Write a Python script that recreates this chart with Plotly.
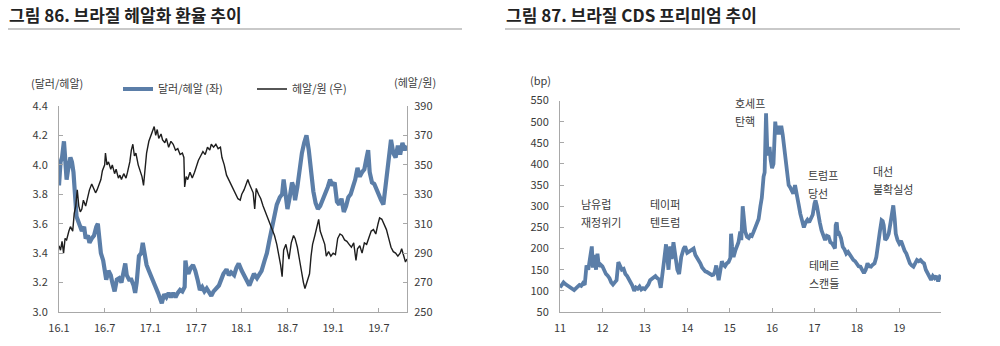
import plotly.graph_objects as go
from plotly.subplots import make_subplots

# ---------------- data: Brazilian real exchange rates (2016.1 ~ 2019.10) ----------------
# x = months since Jan 2016
usd_brl_month = [0, 0.2, 0.4, 0.65, 0.8, 1.0, 1.2, 1.5, 1.7, 1.9, 2.1, 2.3, 2.5, 2.8, 3.0, 3.3, 3.5, 3.8, 4.0, 4.3,
                 4.6, 4.9, 5.1, 5.3, 5.5, 5.8, 6.0, 6.2, 6.5, 6.8, 7.0, 7.3, 7.6, 7.9, 8.2, 8.5, 8.7, 8.9, 9.2, 9.5,
                 9.8, 10.0, 10.2, 10.5, 10.8, 11.0, 11.2, 11.5, 11.8, 12.0, 12.3, 12.6, 13.0, 13.3, 13.5, 13.8, 14.1,
                 14.4, 14.7, 15.0, 15.3, 15.6, 15.9, 16.2, 16.5, 16.6, 16.8, 17.0, 17.3, 17.6, 17.9, 18.2, 18.5, 18.8,
                 19.1, 19.4, 19.7, 20.0, 20.3, 20.6, 21.0, 21.3, 21.6, 22.0, 22.3, 22.6, 23.0, 23.3, 23.6, 24.0, 24.3,
                 24.6, 25.0, 25.3, 25.6, 26.0, 26.3, 26.6, 27.0, 27.3, 27.6, 28.0, 28.3, 28.6, 29.0, 29.3, 29.5, 29.8,
                 30.0, 30.3, 30.6, 30.8, 31.0, 31.3, 31.6, 31.9, 32.2, 32.5, 32.8, 33.1, 33.4, 33.7, 34.0, 34.3, 34.6,
                 35.0, 35.3, 35.6, 35.9, 36.2, 36.5, 36.8, 37.1, 37.4, 37.7, 38.0, 38.3, 38.6, 38.9, 39.2, 39.5, 39.8,
                 40.1, 40.4, 40.6, 40.8, 41.1, 41.4, 41.7, 42.0, 42.3, 42.6, 42.9, 43.1, 43.4, 43.6, 43.9, 44.2, 44.5,
                 44.8, 45.1, 45.4, 45.7]
usd_brl = [3.86, 4.02, 4.05, 4.16, 4.05, 3.90, 3.97, 4.05, 4.02, 3.95, 3.80, 3.65, 3.62, 3.58, 3.55, 3.58, 3.50, 3.52,
           3.47, 3.50, 3.52, 3.58, 3.60, 3.50, 3.40, 3.35, 3.30, 3.22, 3.28, 3.25, 3.20, 3.14, 3.22, 3.23, 3.20, 3.30,
           3.33, 3.25, 3.22, 3.22, 3.18, 3.13, 3.20, 3.38, 3.40, 3.47, 3.40, 3.32, 3.28, 3.25, 3.22, 3.18, 3.13, 3.08,
           3.06, 3.12, 3.10, 3.13, 3.10, 3.13, 3.10, 3.13, 3.15, 3.14, 3.17, 3.35, 3.28, 3.26, 3.30, 3.32, 3.28, 3.22,
           3.15, 3.17, 3.14, 3.16, 3.14, 3.11, 3.14, 3.16, 3.18, 3.22, 3.26, 3.29, 3.25, 3.27, 3.25, 3.30, 3.33, 3.28,
           3.25, 3.22, 3.18, 3.22, 3.26, 3.23, 3.25, 3.28, 3.35, 3.40, 3.48, 3.58, 3.68, 3.73, 3.78, 3.80, 3.90, 3.80,
           3.70, 3.78, 3.88, 3.85, 3.76, 3.85, 3.97, 4.08, 4.15, 4.20, 4.10, 3.95, 3.82, 3.74, 3.70, 3.72, 3.76, 3.80,
           3.85, 3.90, 3.86, 3.88, 3.75, 3.73, 3.77, 3.68, 3.72, 3.78, 3.80, 3.85, 3.90, 3.98, 3.92, 3.95, 3.97, 4.05,
           4.10, 3.95, 3.88, 3.87, 3.83, 3.80, 3.76, 3.73, 3.85, 3.97, 4.10, 4.17, 4.08, 4.05, 4.13, 4.07, 4.15, 4.10,
           4.13]

brl_krw_month = [0, 0.2, 0.4, 0.6, 0.8, 1.0, 1.3, 1.5, 1.8, 2.0, 2.2, 2.4, 2.6, 2.8, 3.0, 3.2, 3.5, 3.8, 4.0, 4.3,
                 4.5, 4.8, 5.0, 5.3, 5.5, 5.7, 6.0, 6.1, 6.3, 6.5, 6.8, 7.0, 7.3, 7.5, 7.8, 8.0, 8.2, 8.5, 8.8, 9.0,
                 9.3, 9.5, 9.7, 9.9, 10.1, 10.4, 10.7, 10.9, 11.1, 11.3, 11.5, 11.8, 12.0, 12.3, 12.5, 12.7, 12.9,
                 13.1, 13.4, 13.6, 13.9, 14.1, 14.4, 14.7, 15.0, 15.3, 15.6, 15.9, 16.2, 16.4, 16.5, 16.7, 16.9, 17.2,
                 17.5, 17.8, 18.0, 18.3, 18.6, 18.9, 19.2, 19.5, 19.8, 20.0, 20.3, 20.6, 20.9, 21.2, 21.4, 21.7, 22.0,
                 22.3, 22.6, 22.9, 23.2, 23.5, 23.8, 24.0, 24.3, 24.6, 24.8, 25.0, 25.3, 25.5, 25.7, 25.9, 26.2, 26.5,
                 26.8, 27.1, 27.4, 27.7, 28.0, 28.3, 28.6, 28.9, 29.1, 29.3, 29.5, 29.8, 30.0, 30.2, 30.5, 30.8, 31.0,
                 31.3, 31.6, 31.9, 32.1, 32.3, 32.6, 32.9, 33.1, 33.3, 33.6, 33.9, 34.1, 34.3, 34.6, 34.9, 35.1, 35.4,
                 35.7, 36.0, 36.3, 36.6, 36.9, 37.2, 37.5, 37.8, 38.1, 38.4, 38.7, 39.0, 39.2, 39.5, 39.8, 40.1, 40.4,
                 40.7, 41.0, 41.3, 41.6, 41.9, 42.1, 42.4, 42.7, 43.0, 43.3, 43.6, 43.9, 44.2, 44.5, 44.8, 45.0, 45.3,
                 45.5, 45.7]
brl_krw = [295, 292, 298, 290, 300, 299, 305, 308, 305, 317, 322, 333, 322, 318, 320, 326, 322, 330, 333, 337, 335, 331,
           333, 338, 340, 346, 350, 358, 350, 352, 347, 350, 344, 347, 341, 343, 340, 344, 341, 345, 352, 360, 364, 356,
           358, 350, 345, 342, 336, 348, 358, 366, 369, 372, 376, 370, 374, 368, 371, 367, 365, 368, 362, 366, 364, 360,
           361, 357, 358, 355, 335, 342, 340, 345, 341, 345, 349, 353, 356, 359, 357, 362, 360, 364, 362, 364, 361, 362,
           355, 350, 343, 340, 337, 334, 330, 327, 326, 330, 333, 337, 340, 337, 333, 331, 320, 334, 330, 327, 322, 318,
           314, 310, 307, 302, 296, 288, 282, 274, 292, 296, 290, 286, 297, 302, 300, 294, 285, 275, 270, 266, 272, 276,
           288, 296, 302, 308, 313, 305, 300, 296, 288, 291, 288, 290, 289, 300, 303, 302, 299, 298, 296, 294, 297, 285,
           293, 295, 290, 297, 296, 301, 305, 306, 303, 310, 314, 313, 310, 306, 300, 294, 291, 290, 288, 290, 293, 288,
           284, 286]

fx_ticks = [0, 6, 12, 18, 24, 30, 36, 42]
fx_tick_labels = ["16.1", "16.7", "17.1", "17.7", "18.1", "18.7", "19.1", "19.7"]

# ---------------- data: Brazil CDS premium (2011 ~ 2019) ----------------
# x = months since Jan 2011
cds_month = [0, 0.5, 1, 1.5, 2, 2.5, 3, 3.5, 4, 4.5, 5, 5.5, 6, 6.5, 7, 7.5, 8, 8.5, 9, 9.3, 9.7, 10.2, 10.6, 11, 11.5,
             12, 12.5, 13, 13.5, 14, 14.5, 15, 15.5, 16, 16.5, 17, 17.5, 18, 18.5, 19, 19.5, 20, 20.5, 21, 21.5, 22,
             22.5, 23, 23.5, 24, 24.5, 25, 25.5, 26, 26.5, 27, 27.5, 28, 28.5, 29, 29.5, 30, 30.4, 30.7, 31.2, 31.6,
             32.1, 32.6, 33.2, 33.7, 34.3, 35, 35.4, 36, 36.8, 37.8, 38.3, 38.7, 39.2, 39.7, 40.2, 40.6, 41.1, 41.5,
             42, 42.5, 43, 43.4, 43.8, 44.2, 44.6, 44.9, 45.4, 45.8, 46.2, 46.7, 47.2, 47.7, 48.2, 48.4, 48.7, 49.1,
             49.6, 50, 50.5, 51, 51.3, 51.7, 52, 52.4, 52.9, 53.4, 53.9, 54.3, 54.8, 55.2, 55.7, 56.2, 56.7, 57.1,
             57.6, 57.9, 58.3, 58.5, 58.7, 59, 59.3, 59.6, 60, 60.4, 60.9, 61.3, 61.8, 62.2, 62.6, 63, 63.3, 63.7,
             64, 64.4, 64.7, 65.1, 65.5, 66, 66.5, 67, 67.5, 68, 68.5, 69, 69.5, 70, 70.5, 71, 71.5, 72, 72.3, 72.7,
             73, 73.5, 74, 74.5, 75, 75.5, 76, 76.5, 77, 77.5, 77.8, 78, 78.3, 78.6, 79, 79.5, 80, 80.5, 81, 81.5,
             82, 82.5, 83, 83.5, 84, 84.5, 85, 85.5, 86, 86.5, 87, 87.5, 88, 88.5, 89, 89.5, 90, 90.5, 91, 91.3,
             91.6, 92, 92.5, 93, 93.5, 94, 94.3, 94.7, 95, 95.5, 96, 96.5, 97, 97.5, 98, 98.5, 99, 99.5, 100, 100.5,
             101, 101.5, 102, 102.5, 103, 103.5, 104, 104.5, 105, 105.5, 106, 106.5, 107, 107.3, 107.7]
cds_bp = [108, 115, 120, 116, 113, 110, 107, 104, 102, 106, 110, 114, 112, 118, 114, 160, 150, 178, 205, 155, 185, 150,
          188, 158, 162, 158, 148, 140, 136, 130, 120, 115, 120, 125, 168, 160, 150, 152, 140, 135, 128, 120, 112, 100,
          108, 105, 110, 103, 106, 104, 110, 115, 125, 128, 132, 135, 130, 127, 107, 135, 175, 210, 165, 150, 205, 175,
          215, 180, 150, 140, 180, 200, 205, 190, 195, 200, 185, 180, 172, 165, 155, 150, 146, 145, 142, 140, 137, 138,
          145, 160, 140, 125, 150, 170, 162, 158, 165, 168, 178, 235, 205, 180, 195, 205, 215, 240, 220, 300, 275, 240,
          228, 225, 232, 230, 240, 250, 262, 270, 300, 320, 370, 380, 520, 470, 420, 430, 440, 410, 390, 400, 500, 470,
          490, 470, 490, 470, 450, 420, 400, 375, 350, 345, 340, 330, 350, 320, 305, 282, 265, 250, 262, 268, 262, 270,
          280, 306, 314, 300, 282, 262, 243, 232, 220, 230, 228, 215, 212, 205, 200, 255, 262, 232, 235, 225, 204, 198,
          188, 192, 185, 178, 173, 170, 165, 158, 157, 150, 142, 150, 165, 158, 157, 162, 165, 180, 204, 240, 267, 265,
          255, 220, 225, 235, 260, 298, 302, 270, 235, 220, 212, 218, 204, 195, 188, 175, 165, 160, 157, 165, 173, 170,
          173, 168, 165, 150, 142, 135, 126, 135, 130, 135, 122, 130, 138]

cds_ticks = [0, 12, 24, 36, 48, 60, 72, 84, 96]
cds_tick_labels = ["11", "12", "13", "14", "15", "16", "17", "18", "19"]

# event notes on the CDS chart: (first line, second line, month, bp of first line)
cds_events = [
    ("남유럽", "재정위기", 5.5, 305),
    ("테이퍼", "텐트럼", 24.8, 305),
    ("호세프", "탄핵", 49.0, 545),
    ("트럼프", "당선", 69.6, 375),
    ("테메르", "스캔들", 70.0, 162),
    ("대선", "불확실성", 88.0, 383),
]

# ---------------- styling ----------------
W, H = 1000, 346
FONT = "Noto Sans CJK KR"
BLUE = "#5b7ea8"
DARK = "#1e1e1e"
TXT = "#3a3a3a"
AXIS = "#a8a8a8"


def px_x(x):
    return x / W


def px_y(y):
    return 1 - y / H


fig = make_subplots(rows=1, cols=2, specs=[[{"secondary_y": True}, {}]])

fig.add_trace(go.Scatter(x=usd_brl_month, y=usd_brl, mode="lines", name="달러/헤알 (좌)",
                         line=dict(color=BLUE, width=4.2)), row=1, col=1, secondary_y=False)
fig.add_trace(go.Scatter(x=brl_krw_month, y=brl_krw, mode="lines", name="헤알/원 (우)",
                         line=dict(color=DARK, width=1.4)), row=1, col=1, secondary_y=True)
fig.add_trace(go.Scatter(x=cds_month, y=cds_bp, mode="lines", showlegend=False,
                         line=dict(color=BLUE, width=3.8)), row=1, col=2)

axis_common = dict(showgrid=False, zeroline=False, showline=True, linecolor=AXIS, linewidth=1,
                   ticks="inside", ticklen=4, tickcolor=AXIS, tickwidth=1, automargin=False,
                   tickfont=dict(family=FONT, size=11, color=TXT))

left_dom_x = [px_x(59), px_x(407)]
left_dom_y = [px_y(312), px_y(106)]
right_dom_x = [px_x(560), px_x(941)]
right_dom_y = [px_y(312), px_y(100.5)]

fig.update_layout(
    xaxis=dict(domain=left_dom_x, range=[0, 45.7], tickvals=fx_ticks, ticktext=fx_tick_labels,
               ticklabelstandoff=6, **axis_common),
    yaxis=dict(domain=left_dom_y, range=[3.0, 4.4], tick0=3.0, dtick=0.2, tickformat=".1f",
               ticklabelstandoff=8, **axis_common),
    yaxis2=dict(domain=left_dom_y, range=[250, 390], tick0=250, dtick=20, overlaying="y", side="right",
                anchor="x", ticklabelstandoff=4, **axis_common),
    xaxis2=dict(domain=right_dom_x, range=[0, 107.8], tickvals=cds_ticks, ticktext=cds_tick_labels,
                anchor="y3", ticklabelstandoff=6, **axis_common),
    yaxis3=dict(domain=right_dom_y, range=[50, 550], tick0=50, dtick=50, anchor="x2",
                ticklabelstandoff=8, **axis_common),
)

annotations = [
    dict(text="<b>그림 86. 브라질 헤알화 환율 추이</b>", x=px_x(7), y=px_y(15), xanchor="left", yanchor="middle",
         font=dict(family=FONT, size=17, color="#222222")),
    dict(text="<b>그림 87. 브라질 CDS 프리미엄 추이</b>", x=px_x(504), y=px_y(15), xanchor="left", yanchor="middle",
         font=dict(family=FONT, size=17, color="#222222")),
    dict(text="(달러/헤알)", x=px_x(57), y=px_y(83), xanchor="center", yanchor="middle",
         font=dict(family=FONT, size=11, color=TXT)),
    dict(text="(헤알/원)", x=px_x(415), y=px_y(82), xanchor="center", yanchor="middle",
         font=dict(family=FONT, size=11, color=TXT)),
    dict(text="(bp)", x=px_x(540), y=px_y(80), xanchor="center", yanchor="middle",
         font=dict(family=FONT, size=11, color=TXT)),
]

# two-line event notes placed on the CDS axes
for line1, line2, m, bp in cds_events:
    fig.add_annotation(text=line1, x=m, y=bp, xref="x2", yref="y3", xanchor="left", yanchor="middle",
                       showarrow=False, font=dict(family=FONT, size=11, color=TXT))
    fig.add_annotation(text=line2, x=m, y=bp, xref="x2", yref="y3", xanchor="left", yanchor="middle",
                       yshift=-18, showarrow=False, font=dict(family=FONT, size=11, color=TXT))

for a in annotations:
    fig.add_annotation(xref="paper", yref="paper", showarrow=False, **a)

# grey rules under the two headings
fig.add_shape(type="line", xref="paper", yref="paper", x0=px_x(8), x1=px_x(462), y0=px_y(29), y1=px_y(29),
              line=dict(color="#c9c9c9", width=2))
fig.add_shape(type="line", xref="paper", yref="paper", x0=px_x(505), x1=px_x(960), y0=px_y(29), y1=px_y(29),
              line=dict(color="#c9c9c9", width=2))

fig.update_layout(
    width=W, height=H,
    margin=dict(l=0, r=0, t=0, b=0, autoexpand=False),
    paper_bgcolor="white", plot_bgcolor="white",
    font=dict(family=FONT, size=11, color=TXT),
    legend=dict(orientation="h", x=px_x(118), y=px_y(89), xanchor="left", yanchor="middle",
                font=dict(family=FONT, size=11, color=TXT), bgcolor="rgba(0,0,0,0)",
                entrywidth=89, entrywidthmode="pixels", tracegroupgap=0),
)

fig.write_html("out.html")
